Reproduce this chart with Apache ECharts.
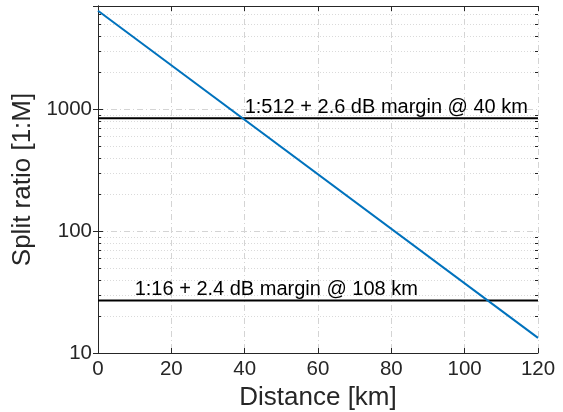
<!DOCTYPE html>
<html>
<head>
<meta charset="utf-8">
<script src="https://cdn.jsdelivr.net/npm/echarts@6/dist/echarts.min.js"></script>
<style>
  html, body { margin: 0; padding: 0; background: #fff; }
  #chart { width: 563px; height: 412px; }
</style>
</head>
<body>
<div id="chart"></div>
<script>
// Supported split ratio versus fibre distance
const distanceKm = [0, 120];
const splitRatio = [6400, 13.3];

// Power-budget reference levels
const levelNames = ['1:512 + 2.6 dB margin @ 40 km', '1:16 + 2.4 dB margin @ 108 km'];
const levelValues = [840, 27];
const levelLabelKm = [40, 10];

const xTicks = [0, 20, 40, 60, 80, 100, 120];
const yMin = 10, yMax = 7000;

const FONT = '"Liberation Sans", Arial, Helvetica, sans-serif';
const AXIS_COLOR = '#262626';
const xMin = xTicks[0], xMax = xTicks[xTicks.length - 1];

// Minor log gridline positions (2..9 within each decade)
const minorVals = [];
for (let dec = yMin; dec < yMax; dec *= 10) {
  for (let m = 2; m <= 9; m++) {
    if (dec * m < yMax) minorVals.push(dec * m);
  }
}

const chart = echarts.init(document.getElementById('chart'), null, { renderer: 'canvas' });

const gridLine = { show: true, lineStyle: { color: '#d4d4d4', type: [6, 3, 1, 3], width: 1 } };
const isDecade = v => Math.abs(Math.log10(v) - Math.round(Math.log10(v))) < 1e-9;

const series = [
  {
    // minor log grid + minor ticks on both sides of the box
    type: 'custom',
    silent: true,
    clip: false,
    z: 1,
    data: minorVals.map(v => [xMin, v]),
    encode: { x: 0, y: 1 },
    renderItem: function (params, api) {
      const v = api.value(1);
      const p0 = api.coord([xMin, v]);
      const p1 = api.coord([xMax, v]);
      const y = Math.round(p0[1]) + 0.5;
      return {
        type: 'group',
        children: [
          { type: 'line', shape: { x1: p0[0], y1: y, x2: p1[0], y2: y },
            style: { stroke: '#dadada', lineWidth: 1, lineDash: [1, 2] } },
          { type: 'line', shape: { x1: p0[0], y1: y, x2: p0[0] + 3, y2: y },
            style: { stroke: AXIS_COLOR, lineWidth: 1 } },
          { type: 'line', shape: { x1: p1[0] - 3, y1: y, x2: p1[0], y2: y },
            style: { stroke: AXIS_COLOR, lineWidth: 1 } }
        ]
      };
    }
  },
  {
    type: 'line',
    name: 'split',
    data: distanceKm.map((d, i) => [d, splitRatio[i]]),
    showSymbol: false,
    lineStyle: { color: '#0072BD', width: 2 },
    z: 5
  }
];

levelValues.forEach((v, i) => {
  series.push({
    type: 'line',
    name: levelNames[i],
    data: [[xMin, v], [xMax, v]],
    showSymbol: false,
    lineStyle: { color: '#000', width: 2 },
    z: 4,
    markPoint: {
      symbol: 'circle',
      symbolSize: 0,
      data: [{ coord: [levelLabelKm[i], v] }],
      label: {
        show: true,
        formatter: levelNames[i],
        position: [0, -1],
        align: 'left',
        verticalAlign: 'bottom',
        color: '#000',
        fontFamily: FONT,
        fontSize: 20
      }
    }
  });
});

chart.setOption({
  animation: false,
  backgroundColor: '#fff',
  grid: { left: 98, right: 25, top: 6, bottom: 59, show: false, containLabel: false, outerBoundsMode: 'none' },
  xAxis: [{
    type: 'value',
    min: xMin,
    max: xMax,
    interval: 20,
    name: 'Distance [km]',
    nameLocation: 'middle',
    nameGap: 27,
    nameTextStyle: { color: AXIS_COLOR, fontFamily: FONT, fontSize: 26 },
    axisLine: { show: true, onZero: false, lineStyle: { color: AXIS_COLOR, width: 1 } },
    axisTick: { show: true, inside: true, length: 5, lineStyle: { color: AXIS_COLOR } },
    axisLabel: { color: AXIS_COLOR, fontFamily: FONT, fontSize: 20.5, margin: 6 },
    splitLine: gridLine
  }, {
    type: 'value',
    position: 'top',
    min: xMin,
    max: xMax,
    interval: 20,
    axisLine: { show: true, lineStyle: { color: AXIS_COLOR, width: 1 } },
    axisTick: { show: true, inside: true, length: 5, lineStyle: { color: AXIS_COLOR } },
    axisLabel: { show: false },
    splitLine: { show: false }
  }],
  yAxis: [{
    type: 'log',
    logBase: 10,
    min: yMin,
    max: yMax,
    name: 'Split ratio [1:M]',
    nameLocation: 'middle',
    nameGap: 58,
    nameTextStyle: { color: AXIS_COLOR, fontFamily: FONT, fontSize: 26 },
    axisLine: { show: true, lineStyle: { color: AXIS_COLOR, width: 1 } },
    axisTick: { show: true, inside: true, length: 5, lineStyle: { color: AXIS_COLOR } },
    axisLabel: {
      color: AXIS_COLOR, fontFamily: FONT, fontSize: 20.5, margin: 6,
      formatter: v => (isDecade(v) ? String(Math.round(v)) : '')
    },
    splitLine: gridLine
  }, {
    type: 'log',
    logBase: 10,
    position: 'right',
    min: yMin,
    max: yMax,
    axisLine: { show: true, lineStyle: { color: AXIS_COLOR, width: 1 } },
    axisTick: { show: true, inside: true, length: 5, lineStyle: { color: AXIS_COLOR } },
    axisLabel: { show: false },
    splitLine: { show: false }
  }],
  series: series
});
</script>
</body>
</html>
